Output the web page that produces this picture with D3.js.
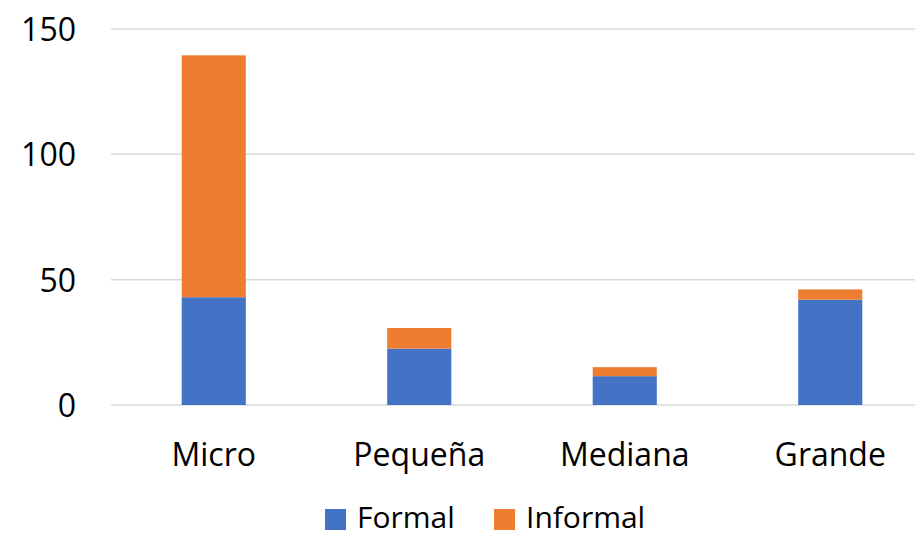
<!DOCTYPE html>
<html>
<head>
<meta charset="utf-8">
<script src="https://cdn.jsdelivr.net/npm/d3@7"></script>
<style>
  html, body { margin: 0; padding: 0; background: #fff; }
  svg { display: block; }
  text { font-family: "Open Sans", "Noto Sans", sans-serif; fill: #000; }
</style>
</head>
<body>
<svg id="chart" width="915" height="537"></svg>
<script>
// Company size categories and stacked series
const categories = ["Micro", "Pequeña", "Mediana", "Grande"];
const formal = [43, 22.5, 11.5, 42];
const informal = [96.5, 8.2, 3.6, 4.1];
const seriesNames = ["Formal", "Informal"];
const seriesColors = ["#4472C4", "#ED7D31"];
const yTicks = [0, 50, 100, 150];

const svg = d3.select("#chart");
const margin = { left: 111, right: 933, top: 29, bottom: 405 };

const rows = categories.map((c, i) => ({ cat: c, Formal: formal[i], Informal: informal[i] }));
const stacked = d3.stack().keys(seriesNames)(rows);

const x = d3.scaleBand().domain(categories).range([margin.left, margin.right]).padding(0);
const y = d3.scaleLinear().domain([0, 150]).range([margin.bottom, margin.top]);
const barW = x.bandwidth() * 0.312;

// Horizontal gridlines
svg.append("g")
  .selectAll("line")
  .data(yTicks)
  .join("line")
  .attr("x1", margin.left)
  .attr("x2", margin.right)
  .attr("y1", d => y(d))
  .attr("y2", d => y(d))
  .attr("stroke", "#d9d9d9")
  .attr("stroke-width", 1.5);

// Y axis labels
const yAxis = d3.axisLeft(y).tickValues(yTicks).tickSize(0).tickPadding(35);
const ya = svg.append("g").attr("transform", `translate(${margin.left},0)`).call(yAxis);
ya.select(".domain").remove();
ya.selectAll("text")
  .style("font-family", '"Open Sans", sans-serif')
  .style("font-size", "32px")
  .attr("fill", "#000")
  .attr("dy", "0.36em");

// Stacked bars
svg.append("g")
  .selectAll("g")
  .data(stacked)
  .join("g")
  .attr("fill", (d, i) => seriesColors[i])
  .selectAll("rect")
  .data(d => d)
  .join("rect")
  .attr("x", d => x(d.data.cat) + x.bandwidth() / 2 - barW / 2)
  .attr("width", barW)
  .attr("y", d => y(d[1]))
  .attr("height", d => y(d[0]) - y(d[1]));

// Category axis labels
const xAxis = d3.axisBottom(x).tickSize(0).tickPadding(0);
const xa = svg.append("g").attr("transform", `translate(0,${margin.bottom})`).call(xAxis);
xa.select(".domain").remove();
xa.selectAll("text")
  .style("font-family", '"Open Sans", sans-serif')
  .style("font-size", "32px")
  .attr("fill", "#000")
  .attr("y", 61)
  .attr("dy", 0);

// Legend
const legendItems = [
  { name: "Formal", color: seriesColors[0], x: 325 },
  { name: "Informal", color: seriesColors[1], x: 494 }
];
const lg = svg.append("g");
legendItems.forEach(it => {
  lg.append("rect").attr("x", it.x).attr("y", 509).attr("width", 21).attr("height", 21).attr("fill", it.color);
  lg.append("text").attr("x", it.x + 32).attr("y", 528)
    .style("font-size", "30px").text(it.name);
});
</script>
</body>
</html>
